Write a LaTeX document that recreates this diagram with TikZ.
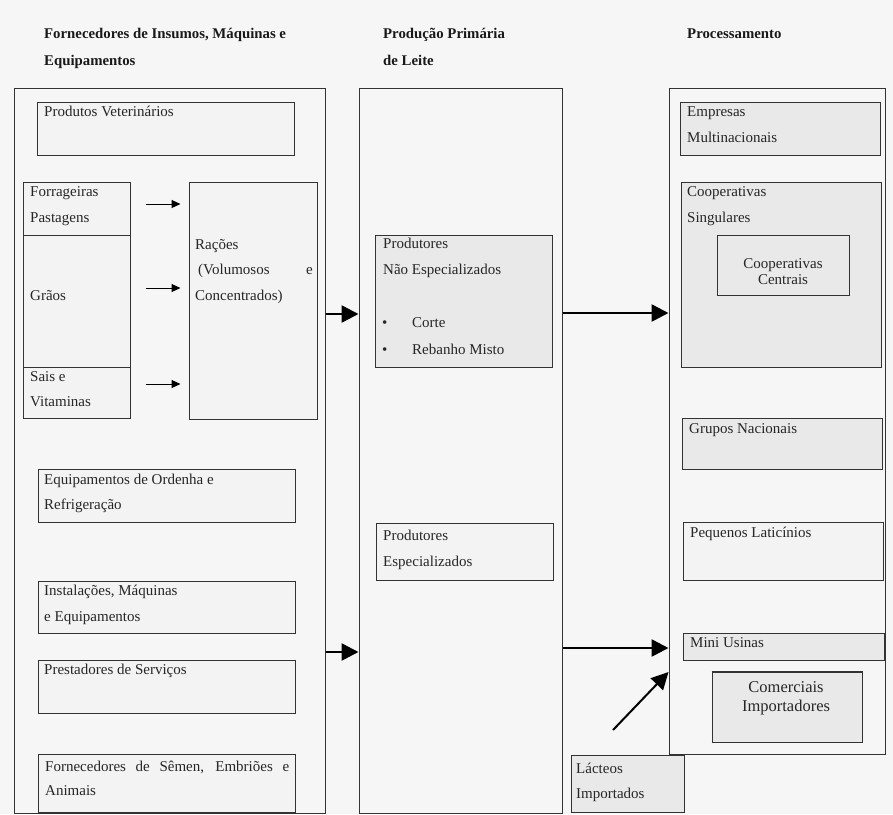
\documentclass[tikz,border=0pt]{standalone}
\usepackage{fontspec}
\setmainfont{Liberation Serif}
\usetikzlibrary{fit,arrows.meta}
\definecolor{bgc}{HTML}{F6F6F6}
\definecolor{boxw}{HTML}{F3F3F3}
\definecolor{boxg}{HTML}{E9E9E9}
\definecolor{ink}{HTML}{333333}
\tikzset{
  box/.style={draw=ink, line width=1pt, inner sep=0pt, fill=boxw},
  gbox/.style={box, fill=boxg},
  txt/.style={anchor=base west, inner sep=0pt, text=black!85, font=\fontsize{15}{17}\selectfont},
  ctxt/.style={anchor=base, inner sep=0pt, text=black!85, font=\fontsize{15}{17}\selectfont},
  ttl/.style={anchor=base west, inner sep=0pt, text=black!90, font=\bfseries\fontsize{14.8}{17}\selectfont},
  bigarrow/.style={draw=black, line width=2.6pt, -{Triangle[length=17pt,width=17pt]}},
  smallarrow/.style={draw=black, line width=1pt, -{Triangle[length=9pt,width=8pt]}},
}
\begin{document}
\begin{tikzpicture}[x=1pt,y=-1pt]
\useasboundingbox (0,0) rectangle (893,814);
\fill[bgc] (0,0) rectangle (893,814);

% titles
\node[ttl] (t1a) at (44,38) {Fornecedores de Insumos, Máquinas e};
\node[ttl] (t1b) at (44,65) {Equipamentos};
\node[ttl] (t2a) at (383,38) {Produção Primária};
\node[ttl] (t2b) at (383,65) {de Leite};
\node[ttl] (t3) at (687,38) {Processamento};

% outer columns
\node[box, fill=bgc, fit={(14,88) (325,813)}] (L) {};
\node[box, fill=bgc, fit={(359,88) (562,813)}] (M) {};
\node[box, fill=bgc, fit={(669,88) (885,754)}] (R) {};

% left column boxes
\node[box, fit={(37,102) (294,155)}] (pv) {};
\node[txt] (pvt) at (44,116) {Produtos Veterinários};

\node[box, fit={(23,182) (130,235)}] (fp) {};
\node[txt] (fpt1) at (30,196) {Forrageiras};
\node[txt] (fpt2) at (30,222) {Pastagens};

\node[box, fit={(23,235) (130,367)}] (gr) {};
\node[txt] (grt) at (30,300) {Grãos};

\node[box, fit={(23,367) (130,418)}] (sv) {};
\node[txt] (svt1) at (30,381) {Sais e};
\node[txt] (svt2) at (30,406) {Vitaminas};

\node[box, fit={(189,182) (317,419)}] (rac) {};
\node[txt] (ract1) at (195,249) {Rações};
\node[txt] (ract2) at (198,274) {(Volumosos};
\node[txt] (ract3) at (306,274) {e};
\node[txt] (ract4) at (195,300) {Concentrados)};

\node[box, fit={(38,469) (295,522)}] (eq) {};
\node[txt] (eqt1) at (44,484) {Equipamentos de Ordenha e};
\node[txt] (eqt2) at (44,509) {Refrigeração};

\node[box, fit={(38,581) (295,633)}] (in) {};
\node[txt] (int1) at (44,595) {Instalações, Máquinas};
\node[txt] (int2) at (44,621) {e Equipamentos};

\node[box, fit={(38,660) (295,713)}] (ps) {};
\node[txt] (pst) at (44,674) {Prestadores de Serviços};

\node[box, fit={(38,754) (295,812)}] (fs) {};
\node[txt] (fst1) at (45,771) {\makebox[244pt][s]{Fornecedores de Sêmen, Embriões e}};
\node[txt] (fst2) at (45,795) {Animais};

% middle column boxes
\node[gbox, fit={(375,235) (552,367)}] (ne) {};
\node[txt] (net1) at (383,248) {Produtores};
\node[txt] (net2) at (383,274) {Não Especializados};
\node[txt] (neb1) at (382,327) {•};
\node[txt] (net3) at (412,327) {Corte};
\node[txt] (neb2) at (382,354) {•};
\node[txt] (net4) at (412,354) {Rebanho Misto};

\node[box, fit={(376,523) (553,580)}] (es) {};
\node[txt] (est1) at (383,540) {Produtores};
\node[txt] (est2) at (383,566) {Especializados};

% right column boxes
\node[gbox, fit={(680,102) (880,155)}] (em) {};
\node[txt] (emt1) at (687,116) {Empresas};
\node[txt] (emt2) at (687,142) {Multinacionais};

\node[gbox, fit={(681,182) (881,367)}] (cs) {};
\node[txt] (cst1) at (687,196) {Cooperativas};
\node[txt] (cst2) at (687,222) {Singulares};

\node[gbox, fit={(717,235) (849,295)}] (cc) {};
\node[ctxt] (cct1) at (783,268) {Cooperativas};
\node[ctxt] (cct2) at (783,284) {Centrais};

\node[gbox, fit={(682,418) (882,469)}] (gn) {};
\node[txt] (gnt) at (689,433) {Grupos Nacionais};

\node[box, fit={(683,522) (883,580)}] (pl) {};
\node[txt] (plt) at (690,537) {Pequenos Laticínios};

\node[gbox, fit={(683,633) (884,660)}] (mu) {};
\node[txt] (mut) at (690,647) {Mini Usinas};

\node[gbox, fit={(712,672) (862,742)}] (ci) {};
\draw[ink, line width=1.8pt] (ci.north west) -- (ci.north east);
\draw[ink, line width=1.8pt] (ci.south west) -- (ci.south east);
\node[ctxt, font=\fontsize{16.5}{18}\selectfont] (cit1) at (786,692) {Comerciais};
\node[ctxt, font=\fontsize{16.5}{18}\selectfont] (cit2) at (786,711) {Importadores};

\node[gbox, fit={(571,755) (684,812)}] (li) {};
\node[txt] (lit1) at (576,773) {Lácteos};
\node[txt] (lit2) at (576,798) {Importados};

% small arrows
\draw[smallarrow] ([xshift=15pt]fp.east |- 0,204) -- ([xshift=-8pt]rac.west |- 0,204);
\draw[smallarrow] ([xshift=15pt]gr.east |- 0,288) -- ([xshift=-8pt]rac.west |- 0,288);
\draw[smallarrow] ([xshift=15pt]sv.east |- 0,384) -- ([xshift=-8pt]rac.west |- 0,384);

% big arrows
\draw[bigarrow] (L.east |- 0,314) -- (M.west |- 0,314);
\draw[bigarrow] (L.east |- 0,652) -- (M.west |- 0,652);
\draw[bigarrow] (M.east |- 0,313) -- (R.west |- 0,313);
\draw[bigarrow] (M.east |- 0,648) -- (R.west |- 0,648);
\coordinate (dstart) at (613,730);
\draw[bigarrow, line width=2pt] (dstart) -- (R.west |- 0,672);
\end{tikzpicture}
\end{document}
